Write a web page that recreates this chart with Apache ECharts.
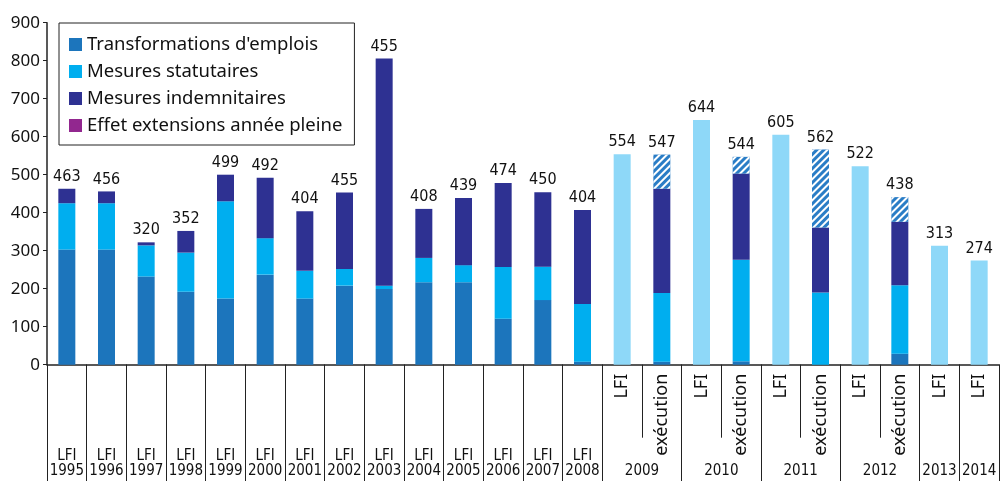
<!DOCTYPE html>
<html><head><meta charset="utf-8">
<script src="https://cdn.jsdelivr.net/npm/echarts@6/dist/echarts.min.js"></script>
<style>html,body{margin:0;padding:0;background:#fff}#c{width:1002px;height:481px}</style>
</head><body><div id="c"></div>
<script>
const years = ['1995','1996','1997','1998','1999','2000','2001','2002','2003','2004','2005','2006','2007','2008',
  '2009','2009','2010','2010','2011','2011','2012','2012','2013','2014'];
const kinds = ['LFI','LFI','LFI','LFI','LFI','LFI','LFI','LFI','LFI','LFI','LFI','LFI','LFI','LFI',
  'LFI','exécution','LFI','exécution','LFI','exécution','LFI','exécution','LFI','LFI'];
const rotatedKind = [false,false,false,false,false,false,false,false,false,false,false,false,false,false,
  true,true,true,true,true,true,true,true,true,true];
const categories = years.map((y, i) => kinds[i] + ' ' + y);

const transformations = [303,303,232,192,174,237,174,208,199,217,217,121,170,8,'-',8,'-',9,'-',0,'-',29,'-','-'];
const statutaires    = [122,122,82,103,256,96,73,44,9,64,45,136,88,152,'-',181,'-',267,'-',190,'-',180,'-','-'];
const indemnitaires  = [38,31,8,57,70,159,157,201,598,129,177,221,196,247,'-',274,'-',227,'-',171,'-',167,'-','-'];
const effetExtensions = [];
const hachure = ['-','-','-','-','-','-','-','-','-','-','-','-','-','-','-',90,'-',44,'-',205,'-',65,'-','-'];
const lfiTotal = ['-','-','-','-','-','-','-','-','-','-','-','-','-','-',554,'-',644,'-',605,'-',522,'-',313,274];
const totalLabels = [463,456,320,352,499,492,404,455,455,408,439,474,450,404,554,547,644,544,605,562,522,438,313,274];
const yTicks = [0,100,200,300,400,500,600,700,800,900];

const colors = {
  transformations: '#1c75bc',
  statutaires: '#00aeef',
  indemnitaires: '#2e3192',
  effet: '#92278f',
  hachure: '#2a7dc6',
  lfi: '#8ed8f8'
};

const bottomLabelMap = {};
(function(){
  let i = 0;
  while (i < years.length) {
    let j = i;
    while (j + 1 < years.length && years[j + 1] === years[i]) j++;
    const centre = (i + j + 1) / 2;
    const txt = rotatedKind[i] ? ('\n' + years[i]) : (kinds[i] + '\n' + years[i]);
    bottomLabelMap[centre.toFixed(1)] = txt;
    i = j + 1;
  }
})();
const interior = years.map((y, i) => i > 0 && years[i - 1] === y);

const condensed = '"Liberation Sans Narrow", "DejaVu Sans Condensed", sans-serif';
const chart = echarts.init(document.getElementById('c'), null, {renderer: 'canvas'});

function barSeries(name, data, color, extra) {
  return Object.assign({
    name: name, type: 'bar', stack: 'a', data: data, barWidth: 17,
    xAxisIndex: 0, yAxisIndex: 0,
    itemStyle: {color: color},
    emphasis: {disabled: true}
  }, extra || {});
}

chart.setOption({
  animation: false,
  backgroundColor: '#fff',
  grid: {left: 47, top: 22.7, height: 342, width: 958, containLabel: false},
  legend: {
    orient: 'vertical', left: 59, top: 23,
    data: ["Transformations d'emplois", 'Mesures statutaires', 'Mesures indemnitaires', 'Effet extensions année pleine'],
    itemWidth: 13, itemHeight: 13, itemGap: 8,
    padding: [12, 12, 10, 10],
    borderColor: '#222', borderWidth: 1, backgroundColor: '#fff',
    icon: 'rect',
    textStyle: {fontFamily: 'Noto Sans', fontSize: 18.5, color: '#111', lineHeight: 18},
    selectedMode: false
  },
  yAxis: {
    type: 'value', min: 0, max: 900, interval: 100,
    axisLine: {show: true, lineStyle: {color: '#222', width: 1.5}},
    axisTick: {show: true, inside: false, length: 4, lineStyle: {color: '#222'}},
    splitLine: {show: false},
    axisLabel: {fontFamily: 'Noto Sans', fontSize: 17, color: '#111', margin: 7,
      formatter: v => yTicks.includes(v) ? String(v) : ''}
  },
  xAxis: [
    {
      type: 'category', data: categories, position: 'bottom',
      axisLine: {show: true, onZero: false, lineStyle: {color: '#222', width: 1.5}},
      axisTick: {show: true, length: 120, lineStyle: {color: '#222'},
        interval: (idx) => !interior[idx]},
      axisLabel: {show: false}
    },
    {
      type: 'category', data: categories, position: 'bottom',
      axisLine: {show: false, onZero: false},
      axisTick: {show: true, length: 73, interval: 0, lineStyle: {color: '#222'}},
      axisLabel: {show: true, interval: 0, rotate: 90, margin: 9,
        fontFamily: 'Noto Sans', fontSize: 18, color: '#111',
        formatter: (v, i) => rotatedKind[i] ? kinds[i] : ''}
    },
    {
      type: 'value', min: 0, max: years.length, interval: 0.5, position: 'bottom',
      axisLine: {show: false, onZero: false}, axisTick: {show: false}, splitLine: {show: false},
      axisLabel: {show: true, margin: 84, fontFamily: condensed, fontSize: 15, color: '#111', lineHeight: 15,
        showMinLabel: true, showMaxLabel: true,
        formatter: v => bottomLabelMap[Number(v).toFixed(1)] || ''}
    }
  ],
  series: [
    barSeries("Transformations d'emplois", transformations, colors.transformations),
    barSeries('Mesures statutaires', statutaires, colors.statutaires),
    barSeries('Mesures indemnitaires', indemnitaires, colors.indemnitaires),
    barSeries('Effet extensions année pleine', effetExtensions, colors.effet),
    barSeries('Hachure', hachure, colors.hachure, {
      itemStyle: {color: colors.hachure, decal: {symbol: 'rect', symbolSize: 1, color: '#ffffff',
        dashArrayX: [1, 0], dashArrayY: [1.5, 2.5], rotation: -Math.PI / 4}}
    }),
    barSeries('LFI', lfiTotal, colors.lfi),
    barSeries('Total', totalLabels.map(() => 0), 'transparent', {
      label: {show: true, position: 'top', distance: 4, fontFamily: condensed, fontSize: 16, color: '#111',
        formatter: p => String(totalLabels[p.dataIndex])}
    })
  ]
});
</script>
</body></html>
